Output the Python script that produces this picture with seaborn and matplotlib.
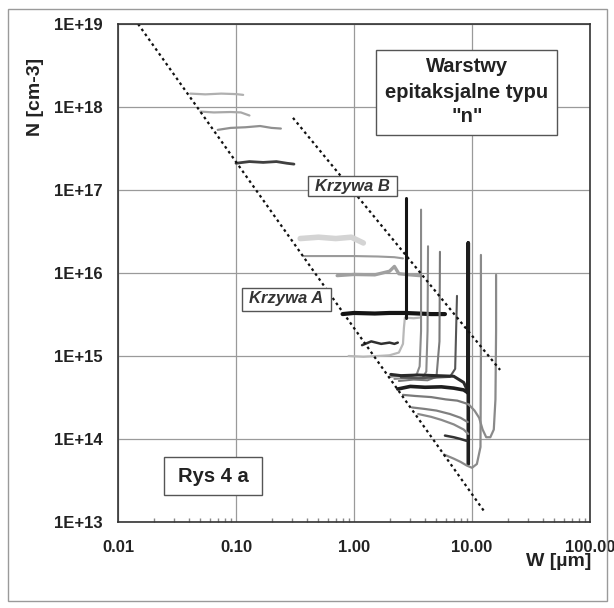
import matplotlib
matplotlib.use("Agg")
import matplotlib.pyplot as plt
import seaborn as sns
import pandas as pd
from matplotlib.patches import Rectangle
from matplotlib.ticker import FixedLocator, FixedFormatter, LogLocator, NullFormatter, NullLocator

# ---------------- data ----------------
x_ticks = [0.01, 0.1, 1, 10, 100]
x_tick_labels = ["0.01", "0.10", "1.00", "10.00", "100.00"]
y_ticks = [1e13, 1e14, 1e15, 1e16, 1e17, 1e18, 1e19]
y_tick_labels = ["1E+13", "1E+14", "1E+15", "1E+16", "1E+17", "1E+18", "1E+19"]

lineA_W = [0.0148, 12.9]
lineA_N = [1e19, 1.3e13]
lineB_W = [0.304, 17.3]
lineB_N = [7.4e17, 6.8e14]

c1_W = [0.041, 0.055, 0.075, 0.1, 0.115]
c1_N = [1.45e18, 1.42e18, 1.45e18, 1.43e18, 1.40e18]
c2_W = [0.05, 0.065, 0.09, 0.11, 0.13]
c2_N = [8.8e17, 8.6e17, 8.7e17, 8.6e17, 7.9e17]
c3_W = [0.07, 0.09, 0.12, 0.16, 0.2, 0.24]
c3_N = [5.3e17, 5.6e17, 5.7e17, 5.9e17, 5.6e17, 5.5e17]
c4_W = [0.1, 0.13, 0.17, 0.22, 0.27, 0.31]
c4_N = [2.1e17, 2.2e17, 2.15e17, 2.2e17, 2.1e17, 2.05e17]

c5_W = [0.35, 0.5, 0.7, 0.95, 1.2]
c5_N = [2.6e16, 2.7e16, 2.6e16, 2.7e16, 2.3e16]
c6_W = [0.37, 0.6, 1.0, 1.6, 2.2, 2.6]
c6_N = [1.6e16, 1.6e16, 1.6e16, 1.58e16, 1.55e16, 1.5e16]
c7_W = [0.72, 1.0, 1.5, 2.0, 2.2, 2.4, 3.0, 3.6]
c7_N = [9.3e15, 9.6e15, 9.5e15, 1.05e16, 1.2e16, 9.8e15, 9.5e15, 9.3e15]
c8_W = [0.8, 1.0, 1.5, 2.0, 2.7, 3.5, 4.5, 5.9]
c8_N = [3.2e15, 3.3e15, 3.25e15, 3.3e15, 3.3e15, 3.25e15, 3.2e15, 3.2e15]
c8s_W = [2.75, 2.75]
c8s_N = [2.9e15, 8e16]
c9_W = [1.17, 1.4, 1.7, 2.0, 2.2, 2.35]
c9_N = [1.35e15, 1.5e15, 1.4e15, 1.45e15, 1.4e15, 1.45e15]
c10_W = [0.9, 1.2, 1.6, 2.0, 2.4, 2.6, 2.65, 2.7, 3.2, 3.6]
c10_N = [1.0e15, 0.98e15, 1.0e15, 1.02e15, 1.1e15, 1.4e15, 2.2e15, 2.9e15, 2.85e15, 2.9e15]

L1_W = [2.0, 2.5, 3.0, 3.4, 3.6, 3.7, 3.7]
L1_N = [5.6e14, 5.8e14, 5.7e14, 6e14, 7.5e14, 2e15, 5.8e16]
L2_W = [2.2, 3.0, 3.8, 4.1, 4.2, 4.24]
L2_N = [5.3e14, 5.5e14, 5.4e14, 6.5e14, 2e15, 2.1e16]
L3_W = [2.4, 3.2, 4.2, 5.0, 5.3, 5.35]
L3_N = [5.0e14, 5.2e14, 5.1e14, 5.6e14, 1.5e15, 1.8e16]
L4_W = [2.5, 3.5, 5.0, 6.5, 7.2, 7.46]
L4_N = [5.5e14, 5.4e14, 5.5e14, 5.6e14, 7e14, 5.3e15]
L5_W = [2.05, 2.5, 3.5, 5.0, 7.0, 8.5, 9.2]
L5_N = [6.0e14, 5.8e14, 5.9e14, 5.8e14, 5.7e14, 4.8e14, 3.8e14]
L6_W = [2.35, 3.0, 4.0, 5.5, 7.0, 8.5, 9.25, 9.3, 9.3, 9.3]
L6_N = [4.0e14, 4.3e14, 4.2e14, 4.25e14, 4.1e14, 3.9e14, 3.6e14, 2e15, 2.3e16, 5e13]
L7_W = [2.6, 3.3, 4.5, 6.0, 7.5, 8.8, 9.4]
L7_N = [3.4e14, 3.3e14, 3.2e14, 3.0e14, 2.9e14, 2.7e14, 2.6e14]
L8_W = [3.1, 4.0, 5.0, 6.5, 8.0, 9.2]
L8_N = [2.4e14, 2.3e14, 2.2e14, 2.0e14, 1.8e14, 1.6e14]
L9_W = [3.5, 4.5, 5.5, 7.0, 8.5, 9.3]
L9_N = [2.0e14, 1.85e14, 1.7e14, 1.5e14, 1.3e14, 1.15e14]
L10_W = [5.9, 7.0, 8.0, 9.0]
L10_N = [1.1e14, 1.05e14, 1.0e14, 0.95e14]
L11_W = [5.8, 7.0, 8.0, 9.0, 10.0, 11.0, 11.8, 11.9, 11.9]
L11_N = [6.5e13, 5.8e13, 5.3e13, 4.8e13, 4.5e13, 5.0e13, 8e13, 1e15, 1.65e16]
L12_W = [9.4, 10.5, 11.5, 12.3, 13.2, 14.3, 15.3, 15.8, 16.0, 16.0]
L12_N = [2.6e14, 2.2e14, 1.8e14, 1.3e14, 1.05e14, 1.05e14, 1.3e14, 3e14, 2e15, 9.5e15]

curves = [
    (c1_W, c1_N, "#b0b0b0", 1.6),
    (c2_W, c2_N, "#a8a8a8", 1.6),
    (c3_W, c3_N, "#909090", 1.6),
    (c4_W, c4_N, "#404040", 2.0),
    (c5_W, c5_N, "#d4d4d4", 4.0),
    (c6_W, c6_N, "#9a9a9a", 1.5),
    (c7_W, c7_N, "#a0a0a0", 2.4),
    (c10_W, c10_N, "#b8b8b8", 1.6),
    (c8_W, c8_N, "#151515", 3.0),
    (c8s_W, c8s_N, "#151515", 2.2),
    (c9_W, c9_N, "#303030", 1.8),
    (L1_W, L1_N, "#8a8a8a", 1.5),
    (L2_W, L2_N, "#8a8a8a", 1.5),
    (L3_W, L3_N, "#7a7a7a", 1.5),
    (L4_W, L4_N, "#555555", 1.5),
    (L5_W, L5_N, "#2a2a2a", 2.2),
    (L6_W, L6_N, "#1e1e1e", 2.6),
    (L7_W, L7_N, "#7a7a7a", 1.6),
    (L8_W, L8_N, "#808080", 1.6),
    (L9_W, L9_N, "#8a8a8a", 1.6),
    (L10_W, L10_N, "#333333", 1.8),
    (L11_W, L11_N, "#8a8a8a", 1.6),
    (L12_W, L12_N, "#8a8a8a", 1.6),
]

# ---------------- figure ----------------
sns.set_theme(style="white")
plt.rcParams["font.family"] = ["Liberation Sans", "DejaVu Sans"]
plt.rcParams["font.weight"] = "bold"

W_PX, H_PX = 614, 608
fig = plt.figure(figsize=(W_PX / 100, H_PX / 100), dpi=100, facecolor="white")
ax = fig.add_axes([118 / W_PX, 1 - 522 / H_PX, (590 - 118) / W_PX, (522 - 24) / H_PX])
ax.set_xscale("log")
ax.set_yscale("log")
ax.set_xlim(0.01, 100)
ax.set_ylim(1e13, 1e19)

ax.grid(True, which="major", color="#9a9a9a", lw=0.9)
ax.set_axisbelow(True)

for W, N, col, lw in curves:
    sns.lineplot(x=W, y=N, ax=ax, color=col, lw=lw, sort=False, estimator=None)

for W, N in [(lineA_W, lineA_N), (lineB_W, lineB_N)]:
    sns.lineplot(x=W, y=N, ax=ax, color="#111111", lw=1.6, sort=False,
                 estimator=None, linestyle=(0, (1.2, 1.5)))

ax.xaxis.set_major_locator(FixedLocator(x_ticks))
ax.xaxis.set_major_formatter(FixedFormatter(x_tick_labels))
ax.yaxis.set_major_locator(FixedLocator(y_ticks))
ax.yaxis.set_major_formatter(FixedFormatter(y_tick_labels))
ax.xaxis.set_minor_locator(LogLocator(base=10, subs=range(2, 10)))
ax.xaxis.set_minor_formatter(NullFormatter())
ax.yaxis.set_minor_locator(NullLocator())
ax.tick_params(axis="x", which="major", length=0, pad=13, labelsize=12)
ax.tick_params(axis="y", which="major", length=0, pad=11, labelsize=12)
ax.tick_params(axis="x", which="minor", direction="in", length=3, color="#888888", bottom=True)
for lab in ax.get_xticklabels() + ax.get_yticklabels():
    lab.set_fontweight("bold")
    lab.set_color("#222222")
for sp in ax.spines.values():
    sp.set_color("#333333")
    sp.set_linewidth(1.2)
ax.set_xlabel("")
ax.set_ylabel("")

def fx(px):
    return px / W_PX

def fy(py):
    return 1 - py / H_PX

fig.text(fx(35), fy(97), "N [cm-3]", rotation=90, ha="center", va="center",
         fontsize=14, fontweight="bold", color="#222222")
fig.text(fx(559), fy(562), "W [\u00b5m]", ha="center", va="center",
         fontsize=14, fontweight="bold", color="#222222")

def box(x0, y0, x1, y1):
    fig.patches.append(Rectangle((fx(x0), fy(y1)), fx(x1) - fx(x0), fy(y0) - fy(y1),
                                 transform=fig.transFigure, facecolor="white",
                                 edgecolor="#555555", lw=1.0, zorder=5))

box(376, 50, 557, 135)
for txt, yy in [("Warstwy", 67), ("epitaksjalne typu", 93), ("\"n\"", 116)]:
    fig.text(fx(467), fy(yy), txt, ha="center", va="center", fontsize=14.5,
             fontweight="bold", color="#222222", zorder=6)

box(308, 176, 397, 196)
fig.text(fx(352), fy(186), "Krzywa B", ha="center", va="center", fontsize=12,
         fontweight="bold", fontstyle="italic", color="#333333", zorder=6)
box(242, 288, 331, 311)
fig.text(fx(286), fy(299), "Krzywa A", ha="center", va="center", fontsize=12,
         fontweight="bold", fontstyle="italic", color="#333333", zorder=6)
box(164, 457, 262, 495)
fig.text(fx(213), fy(476), "Rys 4 a", ha="center", va="center", fontsize=14.5,
         fontweight="bold", color="#222222", zorder=6)

# outer frame
fig.patches.append(Rectangle((fx(8), fy(601)), fx(607) - fx(8), fy(9) - fy(601),
                             transform=fig.transFigure, facecolor="none",
                             edgecolor="#9a9a9a", lw=1.0))

fig.savefig("out.png", dpi=100, facecolor="white")
